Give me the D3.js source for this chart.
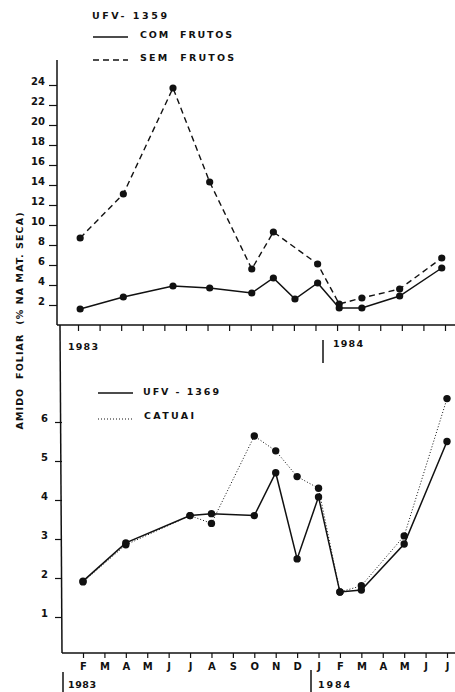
<!DOCTYPE html>
<html>
<head>
<meta charset="utf-8">
<script src="https://cdn.jsdelivr.net/npm/d3@7"></script>
<style>
  html, body { margin: 0; padding: 0; background: #fff; }
  svg { display: block; }
  text { font-family: "DejaVu Sans", sans-serif; font-weight: bold; fill: #111; white-space: pre; }
</style>
</head>
<body>
<svg id="chart" width="455" height="692"></svg>
<script>
// ---------- DATA ----------
const monthLabels = ["F","M","A","M","J","J","A","S","O","N","D","J","F","M","A","M","J","J"];
// top panel: sampling positions (months after Feb 1983, as drawn)
const topMonthPos = [0.1, 2.1, 4.4, 6.1, 8.05, 9.05, 10.05, 11.1, 12.1, 13.15, 14.9, 16.85];
const comFrutos  = [1.6, 2.8, 3.9, 3.7, 3.2, 4.7, 2.6, 4.2, 1.7, 1.7, 2.9, 5.7];
const semFrutos  = [8.7, 13.1, 23.7, 14.3, 5.6, 9.3, null, 6.1, 2.1, 2.7, 3.6, 6.7];
const topYTicks  = [2,4,6,8,10,12,14,16,18,20,22,24];
// bottom panel: sampling months (index from Feb 1983)
const botMonthPos = [0, 2, 5, 6, 8, 9, 10, 11, 12, 13, 15, 17];
const ufv1369    = [1.92, 2.9, 3.6, 3.65, 3.6, 4.7, 2.49, 4.08, 1.64, 1.69, 2.87, 5.5];
const catuai     = [1.9, 2.85, 3.6, 3.4, 5.64, 5.26, 4.6, 4.3, 1.64, 1.8, 3.08, 6.6];
const botYTicks  = [1,2,3,4,5,6];

// ---------- SETUP ----------
const svg = d3.select("#chart");
const ink = "#111";
const FONT = "DejaVu Sans, sans-serif";

function txt(x, y, s, opts = {}) {
  const t = svg.append("text").attr("x", x).attr("y", y).text(s)
    .attr("font-size", opts.size || 9.5)
    .attr("dominant-baseline", "middle")
    .attr("text-anchor", opts.anchor || "start");
  if (opts.len) t.attr("textLength", opts.len).attr("lengthAdjust", "spacing");
  if (opts.rotate) t.attr("transform", `rotate(${opts.rotate},${x},${y})`);
  return t;
}
function styleTickText(sel) {
  sel.attr("font-size", 10).attr("font-family", FONT).attr("font-weight", "bold").attr("fill", ink);
}

// ---------- TOP PANEL ----------
const xTop = d3.scaleLinear().domain([0, 17]).range([78, 445]);
const yTop = d3.scaleLinear().domain([0, 24]).range([325, 85]);

const gTopY = svg.append("g").attr("transform", "translate(57,0)")
  .call(d3.axisLeft(yTop).tickValues(topYTicks).tickSize(8).tickPadding(4).tickFormat(d3.format("d")));
gTopY.select(".domain").remove();
gTopY.selectAll("line").attr("stroke", ink).attr("stroke-width", 1.2);
styleTickText(gTopY.selectAll("text").attr("dy", "-0.1em"));
svg.append("line").attr("x1", 57).attr("x2", 57).attr("y1", 60).attr("y2", 325).attr("stroke", ink).attr("stroke-width", 1.5);

const gTopX = svg.append("g").attr("transform", "translate(0,325)")
  .call(d3.axisBottom(xTop).tickValues(d3.range(18)).tickSize(6).tickFormat(""));
gTopX.select(".domain").remove();
gTopX.selectAll("line").attr("stroke", ink).attr("stroke-width", 1.2);
svg.append("line").attr("x1", 57).attr("x2", 455).attr("y1", 325).attr("y2", 325).attr("stroke", ink).attr("stroke-width", 1.5);

txt(68, 347, "1983", {len: 30});
svg.append("line").attr("x1", 323).attr("x2", 323).attr("y1", 340).attr("y2", 363).attr("stroke", ink).attr("stroke-width", 1.5);
txt(333, 344, "1984", {len: 30});

const topCom = topMonthPos.map((m, i) => ({m, v: comFrutos[i]}));
const topSem = topMonthPos.map((m, i) => ({m, v: semFrutos[i]})).filter(d => d.v != null);
const lineTop = d3.line().x(d => xTop(d.m)).y(d => yTop(d.v));

svg.append("path").datum(topSem).attr("d", lineTop).attr("fill", "none")
  .attr("stroke", ink).attr("stroke-width", 1.4).attr("stroke-dasharray", "6,4");
svg.append("path").datum(topCom).attr("d", lineTop).attr("fill", "none")
  .attr("stroke", ink).attr("stroke-width", 1.5);
svg.append("g").selectAll("circle").data(topSem).join("circle")
  .attr("cx", d => xTop(d.m)).attr("cy", d => yTop(d.v)).attr("r", 3.6).attr("fill", ink);
svg.append("g").selectAll("circle").data(topCom).join("circle")
  .attr("cx", d => xTop(d.m)).attr("cy", d => yTop(d.v)).attr("r", 3.6).attr("fill", ink);

// legend (top)
txt(92, 16, "UFV- 1359", {len: 75});
svg.append("line").attr("x1", 93).attr("x2", 128).attr("y1", 37).attr("y2", 37).attr("stroke", ink).attr("stroke-width", 1.5);
txt(140, 35, "COM  FRUTOS", {len: 92});
svg.append("line").attr("x1", 93).attr("x2", 128).attr("y1", 60).attr("y2", 60).attr("stroke", ink).attr("stroke-width", 1.5).attr("stroke-dasharray", "6,4");
txt(140, 58, "SEM  FRUTOS", {len: 94});

// y title
txt(20, 321, "AMIDO  FOLIAR  (% NA MAT. SECA)", {rotate: -90, anchor: "middle", len: 217});

// ---------- BOTTOM PANEL ----------
const xBot = d3.scaleLinear().domain([0, 17]).range([83, 447]);
const yBot = d3.scaleLinear().domain([0, 6]).range([656, 422]);

const gBotY = svg.append("g").attr("transform", "translate(62,0)")
  .call(d3.axisLeft(yBot).tickValues(botYTicks).tickSize(7).tickPadding(7).tickFormat(d3.format("d")));
gBotY.select(".domain").remove();
gBotY.selectAll("line").attr("stroke", ink).attr("stroke-width", 1.2);
styleTickText(gBotY.selectAll("text").attr("dy", "-0.1em"));
svg.append("line").attr("x1", 60).attr("x2", 62).attr("y1", 325).attr("y2", 653).attr("stroke", ink).attr("stroke-width", 1.5);

const gBotX = svg.append("g").attr("transform", "translate(0,653)")
  .call(d3.axisBottom(xBot).tickValues(d3.range(18)).tickSize(5).tickPadding(5)
    .tickFormat(i => monthLabels[i]));
gBotX.select(".domain").remove();
gBotX.selectAll("line").attr("stroke", ink).attr("stroke-width", 1.2);
styleTickText(gBotX.selectAll("text"));
svg.append("line").attr("x1", 62).attr("x2", 455).attr("y1", 653).attr("y2", 653).attr("stroke", ink).attr("stroke-width", 1.5);

svg.append("line").attr("x1", 63).attr("x2", 63).attr("y1", 672).attr("y2", 692).attr("stroke", ink).attr("stroke-width", 1.5);
txt(68, 685, "1983", {len: 28});
svg.append("line").attr("x1", 311).attr("x2", 311).attr("y1", 670).attr("y2", 692).attr("stroke", ink).attr("stroke-width", 1.5);
txt(318, 685, "1984", {len: 32});

const botU = botMonthPos.map((m, i) => ({m, v: ufv1369[i]}));
const botC = botMonthPos.map((m, i) => ({m, v: catuai[i]}));
const lineBot = d3.line().x(d => xBot(d.m)).y(d => yBot(d.v));

svg.append("path").datum(botC).attr("d", lineBot).attr("fill", "none")
  .attr("stroke", ink).attr("stroke-width", 1).attr("stroke-dasharray", "1,2");
svg.append("path").datum(botU).attr("d", lineBot).attr("fill", "none")
  .attr("stroke", ink).attr("stroke-width", 1.5);
svg.append("g").selectAll("circle").data(botC).join("circle")
  .attr("cx", d => xBot(d.m)).attr("cy", d => yBot(d.v)).attr("r", 3.7).attr("fill", ink);
svg.append("g").selectAll("circle").data(botU).join("circle")
  .attr("cx", d => xBot(d.m)).attr("cy", d => yBot(d.v)).attr("r", 3.7).attr("fill", ink);

// legend bottom
svg.append("line").attr("x1", 98).attr("x2", 133).attr("y1", 393).attr("y2", 393).attr("stroke", ink).attr("stroke-width", 1.5);
txt(143, 392, "UFV - 1369", {len: 76});
svg.append("line").attr("x1", 98).attr("x2", 133).attr("y1", 419).attr("y2", 419).attr("stroke", ink).attr("stroke-width", 1).attr("stroke-dasharray", "1,2");
txt(144, 416, "CATUAI", {len: 50});
</script>
</body>
</html>
